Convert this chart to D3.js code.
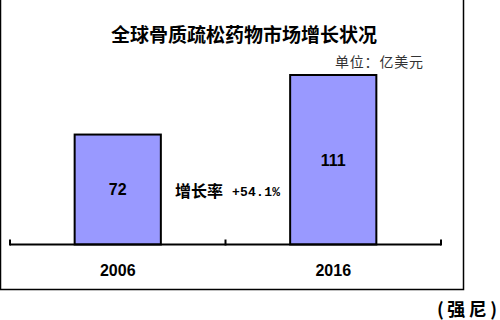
<!DOCTYPE html>
<html><head><meta charset="utf-8">
<script src="https://cdn.jsdelivr.net/npm/d3@7/dist/d3.min.js"></script>
<style>body{margin:0;background:#fff}svg{display:block}</style>
</head><body>
<script>
const categories = ["2006", "2016"];
const values = [72, 111];
const title = "全球骨质疏松药物市场增长状况";
const unitLabel = "单位：亿美元";
const growthLabel = "增长率";
const growthValue = "+54.1%";
const credit = "(强尼)";

const W = 500, H = 320;
const svg = d3.select("body").append("svg").attr("width", W).attr("height", H);

// frame
svg.append("rect").attr("x", 0.5).attr("y", -10).attr("width", 463).attr("height", 299.5)
  .attr("fill", "none").attr("stroke", "#000").attr("stroke-width", 1.5);

const x = d3.scaleBand().domain(categories).range([10, 441]).paddingInner(0.6).paddingOuter(0.3);
const y = d3.scaleLinear().domain([0, 111]).range([244.5, 75]);

// bars
svg.selectAll("rect.bar").data(values).join("rect").attr("class", "bar")
  .attr("x", (d, i) => x(categories[i]))
  .attr("y", d => y(d))
  .attr("width", x.bandwidth())
  .attr("height", d => y(0) - y(d))
  .attr("fill", "#9999FF").attr("stroke", "#000").attr("stroke-width", 2);

// axis line with boundary ticks
const step = x.step();
const bounds = [10, 10 + step, 441];
const axisG = svg.append("g");
axisG.append("line").attr("x1", 10).attr("x2", 441).attr("y1", y(0)).attr("y2", y(0))
  .attr("stroke", "#000").attr("stroke-width", 2);
axisG.selectAll("line.tk").data(bounds).join("line").attr("class", "tk")
  .attr("x1", d => d).attr("x2", d => d).attr("y1", y(0) - 5).attr("y2", y(0) + 1)
  .attr("stroke", "#000").attr("stroke-width", 2);

// category labels via axis
const xa = svg.append("g").attr("transform", `translate(0,${y(0)})`)
  .call(d3.axisBottom(x).tickSize(0).tickPadding(20));
xa.select(".domain").remove();
xa.selectAll("text").attr("font-family", "Liberation Sans, Arial, sans-serif")
  .attr("font-size", 16).attr("font-weight", "bold").attr("fill", "#000");

// value labels
svg.selectAll("text.val").data(values).join("text").attr("class", "val")
  .attr("x", (d, i) => x(categories[i]) + x.bandwidth() / 2)
  .attr("y", (d, i) => i === 0 ? 195 : 166)
  .attr("text-anchor", "middle")
  .attr("font-family", "Liberation Sans, Arial, sans-serif")
  .attr("font-size", 16).attr("font-weight", "bold").text(d => d);

// title
svg.append("text").attr("x", 244).attr("y", 42).attr("text-anchor", "middle")
  .attr("font-family", "Noto Sans CJK SC").attr("font-size", 19).attr("font-weight", "bold")
  .text(title);

svg.append("text").attr("x", 423).attr("y", 67).attr("text-anchor", "end")
  .attr("font-family", "Noto Sans CJK SC").attr("font-size", 14).attr("fill", "#333")
  .attr("textLength", 88).text(unitLabel);

// growth
svg.append("text").attr("x", 175).attr("y", 197)
  .attr("font-family", "Noto Sans CJK SC").attr("font-size", 16).attr("font-weight", "bold")
  .text(growthLabel);
svg.append("text").attr("x", 232).attr("y", 196)
  .attr("font-family", "Liberation Mono, monospace").attr("font-size", 13).attr("font-weight", "bold")
  .attr("textLength", 48).text(growthValue);

svg.append("text").attr("x", 497).attr("y", 316).attr("text-anchor", "end")
  .attr("font-family", "Noto Sans CJK SC").attr("font-size", 18).attr("font-weight", "bold")
  .attr("textLength", 60).text(credit);
</script>
</body></html>
